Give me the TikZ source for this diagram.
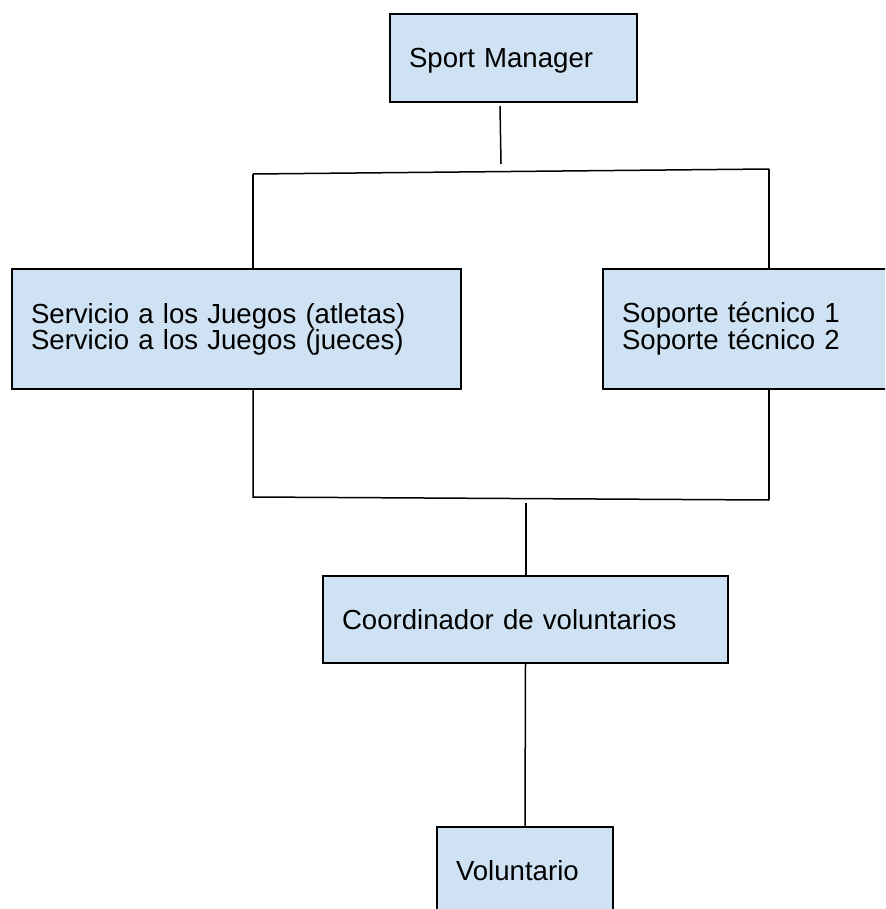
\documentclass[tikz,border=0pt]{standalone}
\usepackage{fontspec}
\setmainfont{Liberation Sans}
\usepackage{xcolor}
\usepackage{tikz}
\usetikzlibrary{positioning}
\definecolor{boxblue}{HTML}{CFE2F3}
\newcommand{\rolefont}{\fontsize{27.6}{26}\selectfont}

\begin{document}
\begin{tikzpicture}[
  x=1pt, y=-1pt,
  font=\rolefont,
  role/.style={draw, line width=1.5pt, fill=boxblue, align=left,
               inner xsep=19pt, inner ysep=0pt},
  oneline/.style={text depth=0pt},
  link/.style={line width=1.5pt}]
\clip (0,0) rectangle (885,909);
\node[role, oneline, text width=209pt, minimum height=88pt] (sm) at (513.5,58) {Sport Manager};
\node[role, text width=411pt, minimum height=120pt] (serv) at (236.5,329)
  {Servicio a los Juegos (atletas)\\Servicio a los Juegos (jueces)};
\node[role, text width=264pt, minimum height=120pt] (sop) at (754,329)
  {Soporte técnico 1\\Soporte técnico 2};
\node[role, oneline, text width=367pt, minimum height=87pt] (coord) at (525.5,619.5) {Coordinador de voluntarios};
\node[role, oneline, text width=138pt, minimum height=87pt] (vol) at (525,870.5) {Voluntario};
% upper branch
\coordinate (smfoot) at (500,106);
\coordinate (topjoin) at (501,164);
\coordinate (topleft) at (253,174);
\coordinate (topright) at (769,169);
\draw[link] (smfoot) -- (topjoin);
\draw[link] (topleft) -- (topright);
\draw[link] (topleft) -- (topleft |- serv.north);
\draw[link] (topright) -- (topright |- sop.north);
% lower branch
\coordinate (lowleft) at (253,497);
\coordinate (lowright) at (769,500);
\coordinate (lowjoin) at (526,503);
\draw[link] (lowleft |- serv.south) -- (lowleft) -- (lowright);
\draw[link] (lowright |- sop.south) -- (lowright);
\draw[link] (lowjoin) -- (lowjoin |- coord.north);
\draw[link] (coord.south) -- (vol.north);
\end{tikzpicture}
\end{document}
